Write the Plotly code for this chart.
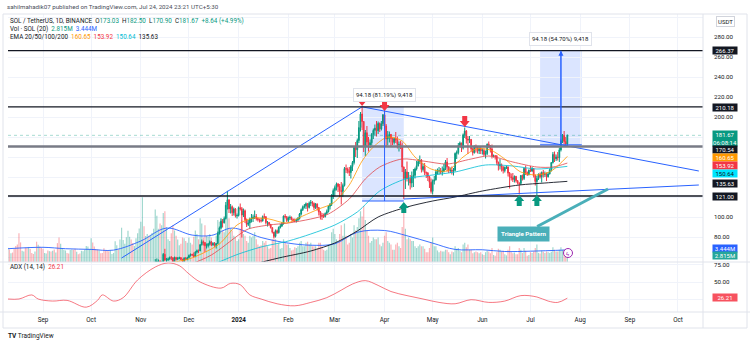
import plotly.graph_objects as go
import pandas as pd

# ---------------- DATA ----------------
# daily closes, SOL/USDT, starting 2023-08-10
close_aug23 = [24.6, 24.5, 24.8, 24.7, 24.6, 23.6, 22.7, 21.4, 21.3, 21.7, 22.0, 21.3, 20.9, 21.9, 21.2, 21.0, 20.9, 21.0, 20.7, 22.1, 21.0, 19.9]
close_sep23 = [19.6, 19.6, 19.7, 19.4, 19.6, 19.5, 19.5, 19.1, 19.2, 18.1, 17.4, 18.0, 18.4, 18.7, 18.9, 18.8, 18.7, 19.2, 19.7, 19.5, 19.1, 19.5, 19.4, 19.0, 19.3, 19.4, 19.7, 20.6, 21.0, 21.3]
close_oct23 = [23.9, 23.3, 23.1, 22.8, 22.7, 23.2, 23.1, 22.8, 21.7, 21.6, 21.3, 21.1, 21.6, 21.6, 22.4, 23.7, 24.3, 24.0, 26.6, 29.7, 29.9, 30.4, 31.5, 32.1, 32.8, 31.8, 31.7, 32.6, 34.6, 36.4, 38.2]
close_nov23 = [40.0, 42.0, 39.7, 41.6, 42.6, 41.9, 42.8, 43.1, 44.5, 55.0, 55.4, 55.4, 53.2, 53.6, 62.7, 57.0, 57.2, 58.0, 59.5, 59.2, 55.0, 59.5, 57.7, 58.5, 59.4, 57.6, 55.6, 58.7, 57.5, 59.2]
close_dec23 = [61.5, 62.6, 62.1, 60.6, 65.0, 66.2, 66.1, 72.2, 75.2, 74.6, 71.2, 71.3, 73.2, 75.1, 72.0, 73.6, 71.6, 73.5, 83.3, 89.2, 95.8, 94.2, 98.5, 111.8, 117.2, 108.1, 110.3, 104.3, 108.0, 101.2, 101.5]
close_jan24 = [109.3, 108.2, 101.9, 106.2, 97.3, 92.6, 94.1, 98.0, 98.6, 100.0, 100.4, 98.5, 97.5, 96.6, 96.1, 100.3, 100.2, 94.4, 94.6, 92.7, 89.4, 84.8, 80.6, 86.3, 84.4, 89.6, 91.1, 93.1, 100.9, 100.2, 96.6]
close_feb24 = [99.0, 99.6, 97.6, 96.1, 96.0, 97.2, 98.4, 103.0, 107.3, 110.1, 111.2, 113.3, 109.6, 113.8, 114.5, 113.6, 109.4, 113.1, 109.4, 105.0, 101.5, 101.3, 100.5, 103.6, 105.5, 110.7, 112.6, 120.3, 126.4]
close_mar24 = [129.4, 133.0, 130.4, 126.6, 125.6, 131.5, 148.4, 147.9, 146.1, 144.4, 150.5, 154.5, 169.6, 167.2, 176.5, 189.4, 203.0, 195.5, 169.9, 184.3, 175.0, 172.1, 174.2, 182.7, 186.7, 188.8, 186.2, 193.6, 188.1, 193.3, 202.2]
close_apr24 = [191.1, 178.1, 180.7, 182.6, 178.4, 174.6, 178.4, 176.9, 172.5, 172.6, 170.4, 149.9, 138.4, 145.1, 138.4, 138.5, 134.1, 140.4, 141.7, 148.1, 151.3, 155.4, 156.5, 147.5, 150.5, 144.5, 143.9, 140.3, 134.7, 125.6]
close_may24 = [135.8, 137.2, 144.9, 146.3, 146.3, 144.9, 146.0, 148.4, 155.0, 150.2, 146.6, 146.8, 145.8, 146.7, 163.6, 164.4, 171.4, 174.1, 169.1, 182.2, 185.9, 178.0, 176.9, 177.6, 168.2, 164.3, 170.8, 169.7, 166.2, 168.3, 166.2]
close_jun24 = [166.6, 162.6, 163.4, 172.8, 171.0, 168.1, 161.1, 161.2, 160.7, 154.5, 151.3, 152.3, 149.7, 146.4, 149.6, 150.1, 143.9, 140.3, 139.3, 137.4, 140.7, 136.3, 134.1, 133.6, 141.5, 138.6, 148.6, 144.5, 142.5, 146.9]
close_jul24 = [146.0, 148.3, 141.4, 135.5, 138.5, 142.9, 140.2, 144.5, 142.7, 143.1, 140.2, 143.1, 147.3, 154.4, 162.6, 158.2, 160.0, 159.3, 167.1, 176.2, 181.7, 175.4, 173.03, 181.67]

# daily highs / lows for the candles that reach the visible pane (from 2023-11-10)
high_nov23 = [57.9, 58.5, 57.5, 56.8, 55.5, 64.0, 68.2, 59.0, 59.5, 60.5, 61.0, 59.9, 60.4, 60.2, 60.0, 60.3, 59.8, 58.2, 59.8, 60.0, 60.2]
low_nov23 = [44.0, 53.5, 53.0, 51.0, 50.5, 52.9, 56.1, 53.4, 55.8, 57.3, 57.0, 54.0, 54.5, 56.5, 57.0, 57.9, 56.9, 54.6, 55.4, 56.8, 56.8]
high_dec23 = [62.5, 63.5, 63.2, 64.5, 65.8, 67.5, 67.5, 73.0, 77.5, 76.5, 74.6, 73.5, 74.0, 76.5, 76.0, 74.8, 75.0, 74.0, 85.5, 90.5, 98.5, 98.0, 100.5, 115.0, 126.2, 117.5, 113.0, 111.5, 109.5, 109.0, 103.5]
low_dec23 = [58.8, 60.5, 60.8, 59.5, 59.8, 63.5, 64.0, 65.8, 71.5, 71.5, 65.0, 68.5, 69.5, 71.5, 71.0, 71.4, 70.2, 68.5, 72.8, 82.5, 88.0, 89.5, 93.5, 97.5, 107.5, 104.0, 103.5, 101.0, 101.5, 99.5, 98.5]
high_jan24 = [110.5, 113.5, 110.0, 108.5, 107.5, 98.5, 97.0, 99.5, 103.0, 102.5, 106.5, 103.0, 99.5, 98.5, 99.0, 101.5, 103.5, 101.0, 96.0, 95.0, 93.0, 89.5, 85.0, 87.5, 87.5, 90.5, 93.0, 95.0, 101.5, 103.0, 101.0]
low_jan24 = [100.5, 106.5, 79.5, 100.0, 94.0, 90.0, 91.0, 88.5, 94.5, 95.0, 98.0, 96.5, 95.5, 94.5, 94.5, 95.5, 98.5, 92.5, 90.5, 91.5, 88.5, 83.5, 79.0, 79.5, 83.0, 83.5, 88.5, 90.0, 92.5, 98.5, 95.0]
high_feb24 = [100.5, 101.5, 100.5, 98.5, 98.5, 98.5, 100.0, 104.0, 108.5, 111.5, 113.0, 114.5, 114.0, 115.5, 117.0, 116.0, 114.5, 114.0, 113.5, 110.0, 106.0, 104.0, 103.5, 104.5, 107.5, 111.5, 114.0, 123.0, 128.5]
low_feb24 = [95.0, 97.0, 96.5, 95.0, 95.0, 94.5, 96.0, 97.5, 101.5, 106.0, 108.5, 108.0, 105.5, 108.5, 111.0, 110.5, 107.0, 108.0, 106.5, 101.5, 97.5, 97.0, 99.0, 99.5, 102.5, 104.5, 107.5, 111.0, 118.0]
high_mar24 = [131.5, 134.5, 134.0, 133.0, 135.0, 133.5, 150.0, 152.5, 149.5, 150.0, 152.0, 156.0, 171.0, 175.0, 178.5, 196.0, 205.0, 210.2, 196.0, 187.0, 191.0, 180.0, 177.5, 184.0, 188.5, 192.5, 196.0, 195.5, 194.5, 196.0, 203.0]
low_mar24 = [120.5, 126.5, 125.0, 120.0, 112.5, 120.0, 130.5, 144.0, 143.5, 141.0, 138.5, 146.0, 152.5, 160.0, 159.0, 174.0, 185.5, 187.0, 165.0, 161.0, 170.5, 165.5, 169.0, 171.5, 178.0, 181.5, 180.5, 183.0, 185.0, 186.5, 191.0]
high_apr24 = [205.0, 193.0, 186.0, 185.5, 183.0, 179.5, 179.5, 185.0, 180.5, 175.5, 176.0, 174.5, 150.5, 148.0, 155.5, 145.0, 142.0, 145.5, 148.0, 149.5, 156.0, 158.0, 161.5, 158.0, 153.5, 154.0, 145.5, 145.0, 141.0, 138.5]
low_apr24 = [188.5, 170.0, 171.5, 174.5, 171.0, 172.0, 172.5, 174.0, 168.5, 165.5, 168.0, 145.0, 118.0, 128.0, 135.5, 131.5, 127.5, 129.5, 130.0, 138.5, 146.5, 150.5, 153.0, 144.5, 145.5, 142.0, 139.0, 136.0, 129.0, 123.5]
high_may24 = [137.5, 141.0, 147.5, 148.5, 150.0, 149.0, 150.5, 153.0, 157.0, 159.0, 150.5, 149.5, 150.5, 149.0, 164.5, 166.5, 174.0, 175.5, 173.5, 183.5, 189.5, 187.0, 181.0, 181.0, 178.0, 169.5, 171.5, 172.5, 170.0, 170.5, 170.0]
low_may24 = [122.5, 132.5, 136.5, 142.5, 142.5, 143.0, 141.5, 144.5, 147.0, 145.5, 144.0, 144.0, 142.5, 141.5, 145.5, 158.0, 162.5, 170.0, 165.0, 167.5, 179.0, 173.5, 163.0, 174.0, 165.5, 161.5, 163.5, 164.5, 163.5, 163.0, 163.0]
high_jun24 = [168.5, 168.5, 166.5, 173.5, 175.5, 172.0, 172.5, 162.5, 162.0, 162.0, 155.5, 158.0, 153.5, 151.0, 150.5, 151.5, 150.5, 145.0, 143.5, 144.0, 141.5, 141.0, 137.0, 134.5, 142.0, 142.5, 149.5, 151.5, 145.5, 147.5]
low_jun24 = [162.5, 161.0, 158.5, 162.0, 169.0, 164.5, 158.5, 159.5, 157.5, 152.0, 146.5, 147.5, 145.5, 143.5, 144.5, 148.0, 140.5, 128.5, 136.5, 135.0, 134.5, 134.5, 132.5, 122.5, 132.0, 136.5, 137.0, 142.0, 141.0, 141.5]
high_jul24 = [151.0, 150.0, 149.0, 142.5, 141.0, 143.5, 144.5, 145.5, 147.0, 145.5, 144.5, 145.0, 148.5, 155.0, 165.0, 165.5, 162.5, 165.0, 169.5, 177.5, 183.0, 186.0, 180.0, 182.5]
low_jul24 = [145.0, 145.0, 139.5, 131.5, 122.0, 137.0, 138.5, 134.5, 139.5, 140.0, 136.0, 139.5, 142.5, 145.5, 153.5, 155.0, 156.0, 156.5, 155.0, 165.5, 174.0, 172.5, 170.5, 170.9]

# daily volume (millions of SOL), from 2023-08-10
vol_aug23 = [4.1, 3.6, 2.5, 2.7, 3.8, 4.6, 5.0, 8.2, 5.6, 3.2, 3.0, 4.1, 4.0, 4.3, 3.7, 2.6, 2.3, 3.0, 5.8, 4.9, 4.4, 4.0]
vol_sep23 = [3.8, 2.6, 2.4, 3.3, 3.1, 3.0, 3.2, 3.6, 2.7, 5.4, 7.0, 5.2, 3.9, 3.5, 3.3, 2.6, 2.4, 3.4, 3.6, 3.5, 3.8, 2.9, 2.2, 2.4, 3.2, 3.1, 3.5, 4.6, 4.4, 3.6]
vol_oct23 = [6.8, 5.6, 4.4, 3.7, 3.5, 3.3, 2.5, 2.6, 3.9, 3.2, 3.4, 3.1, 3.3, 2.3, 2.6, 5.9, 4.8, 3.6, 6.4, 9.8, 6.3, 5.2, 7.1, 8.9, 7.2, 6.4, 5.4, 4.6, 6.8, 8.2, 9.6]
vol_nov23 = [11.5, 18.5, 10.2, 7.4, 8.0, 7.5, 7.8, 8.3, 9.5, 15.0, 13.2, 9.5, 11.0, 10.5, 14.0, 14.5, 10.0, 6.5, 6.0, 8.2, 10.5, 9.0, 7.5, 6.4, 4.8, 5.2, 7.0, 6.8, 6.0, 5.5]
vol_dec23 = [7.0, 5.5, 5.0, 7.2, 9.0, 8.0, 6.5, 12.5, 11.0, 7.0, 10.5, 7.5, 7.2, 8.0, 7.0, 5.5, 5.0, 7.5, 12.0, 11.5, 12.5, 9.0, 8.5, 13.5, 15.5, 12.5, 9.5, 9.0, 7.5, 7.0, 6.0]
vol_jan24 = [6.5, 9.5, 12.0, 8.0, 7.5, 6.0, 5.5, 7.5, 7.0, 7.5, 8.5, 6.5, 5.0, 4.5, 4.8, 6.0, 5.5, 6.0, 4.5, 3.8, 4.0, 6.5, 8.5, 6.5, 5.0, 5.5, 3.8, 4.0, 6.5, 5.5, 5.0]
vol_feb24 = [5.0, 4.0, 3.3, 3.5, 4.2, 4.0, 4.5, 5.5, 6.0, 4.5, 4.5, 5.5, 5.8, 5.0, 5.5, 4.5, 4.5, 4.5, 4.0, 5.5, 5.5, 4.5, 3.5, 3.2, 3.5, 5.0, 5.0, 8.5, 9.5]
vol_mar24 = [8.0, 6.5, 5.5, 8.0, 10.5, 7.5, 11.0, 7.5, 5.0, 5.5, 8.0, 7.0, 10.5, 9.0, 10.0, 12.5, 14.5, 13.0, 16.0, 12.0, 9.0, 7.5, 5.5, 6.0, 7.0, 6.5, 6.5, 7.0, 5.0, 4.5, 5.5]
vol_apr24 = [7.5, 8.5, 6.0, 5.5, 5.0, 3.5, 3.5, 5.0, 5.5, 4.5, 4.0, 10.0, 15.5, 9.5, 6.5, 7.0, 6.5, 6.0, 6.0, 4.5, 4.0, 4.5, 5.0, 4.5, 4.5, 3.8, 2.8, 2.8, 4.0, 5.5]
vol_may24 = [7.0, 4.5, 4.5, 3.3, 2.8, 3.2, 3.0, 3.0, 3.5, 3.5, 2.8, 2.2, 3.0, 2.8, 4.5, 3.8, 4.0, 3.2, 2.8, 5.0, 5.5, 4.2, 5.0, 3.5, 3.5, 2.5, 2.8, 3.0, 2.8, 2.5, 2.8]
vol_jun24 = [2.2, 2.0, 2.8, 3.2, 3.0, 2.5, 4.0, 2.0, 1.8, 2.8, 3.8, 3.5, 3.0, 3.2, 2.2, 1.9, 3.5, 4.5, 2.8, 2.5, 2.7, 2.2, 2.2, 4.0, 3.5, 2.6, 4.0, 3.2, 1.8, 2.0]
vol_jul24 = [2.8, 2.6, 3.0, 4.0, 5.0, 2.6, 2.4, 3.3, 2.9, 2.6, 3.0, 2.8, 2.6, 2.9, 4.2, 3.5, 3.0, 3.0, 3.5, 4.2, 3.5, 3.6, 3.0, 2.815]

# indicator curves (date, value)
ema20_dates = ["2023-11-10", "2023-11-20", "2023-12-01", "2023-12-10", "2023-12-20", "2023-12-31", "2024-01-10", "2024-01-20", "2024-01-31", "2024-02-10", "2024-02-20", "2024-02-29", "2024-03-10", "2024-03-18", "2024-03-25", "2024-04-03", "2024-04-12", "2024-04-20", "2024-04-30", "2024-05-10", "2024-05-20", "2024-05-28", "2024-06-06", "2024-06-15", "2024-06-25", "2024-07-05", "2024-07-14", "2024-07-24"]
ema20_vals = [47, 54, 58, 64, 73, 92, 99, 98, 94, 101, 108, 114, 132, 156, 170, 180, 176, 160, 148, 146, 160, 168, 167, 158, 145, 142, 146, 160.65]
ema50_dates = ["2023-11-10", "2023-12-01", "2023-12-15", "2024-01-01", "2024-01-07", "2024-01-20", "2024-02-01", "2024-02-15", "2024-02-26", "2024-03-10", "2024-03-20", "2024-03-29", "2024-04-12", "2024-04-25", "2024-05-10", "2024-05-25", "2024-06-05", "2024-06-20", "2024-07-05", "2024-07-15", "2024-07-24"]
ema50_vals = [40, 52, 62, 82, 88, 92, 94, 98, 103, 118, 138, 150, 158, 156, 153, 158, 161, 155, 150, 150, 153.92]
ema100_dates = ["2023-11-20", "2023-12-01", "2023-12-15", "2024-01-01", "2024-01-15", "2024-02-01", "2024-02-15", "2024-03-01", "2024-03-15", "2024-03-29", "2024-04-14", "2024-05-01", "2024-05-15", "2024-06-03", "2024-06-20", "2024-07-05", "2024-07-24"]
ema100_vals = [40, 45, 52, 63, 70, 76, 83, 92, 105, 126, 138, 142, 145, 152, 151, 148, 150.64]
ema200_dates = ["2024-01-01", "2024-01-26", "2024-02-15", "2024-03-01", "2024-03-15", "2024-03-28", "2024-04-15", "2024-05-01", "2024-05-15", "2024-06-01", "2024-06-24", "2024-07-10", "2024-07-24"]
ema200_vals = [49, 59, 66, 74, 86, 100, 110, 116, 120, 126, 132, 134, 135.63]
volma_dates = ["2023-08-10", "2023-09-01", "2023-09-15", "2023-10-01", "2023-10-15", "2023-11-01", "2023-11-17", "2023-12-03", "2023-12-15", "2023-12-28", "2024-01-15", "2024-02-01", "2024-02-15", "2024-03-01", "2024-03-15", "2024-04-01", "2024-04-15", "2024-05-01", "2024-05-15", "2024-06-01", "2024-06-15", "2024-07-01", "2024-07-24"]
volma_vals = [3.8, 4.2, 3.8, 3.6, 3.4, 6.0, 9.7, 7.7, 7.6, 9.7, 7.0, 5.4, 4.8, 5.2, 8.5, 9.0, 7.5, 5.4, 3.6, 3.5, 3.0, 3.1, 3.444]
adx_dates = ["2023-08-10", "2023-08-17", "2023-08-25", "2023-08-29", "2023-09-07", "2023-09-16", "2023-09-28", "2023-10-05", "2023-10-08", "2023-10-15", "2023-10-21", "2023-10-30", "2023-11-10", "2023-11-18", "2023-11-25", "2023-12-01", "2023-12-08", "2023-12-21", "2023-12-27", "2024-01-02", "2024-01-08", "2024-01-15", "2024-01-25", "2024-02-05", "2024-02-15", "2024-02-25", "2024-03-05", "2024-03-12", "2024-03-20", "2024-03-28", "2024-04-05", "2024-04-15", "2024-04-25", "2024-05-05", "2024-05-15", "2024-05-25", "2024-06-05", "2024-06-15", "2024-06-25", "2024-07-05", "2024-07-12", "2024-07-18", "2024-07-24"]
adx_vals = [25, 25, 31, 25, 22, 23, 13, 23, 31, 22, 27, 53, 72, 78, 74, 62, 50, 41, 48, 46, 31, 25, 18, 15, 20, 27, 38, 47, 52, 45, 36, 30, 25, 20, 18, 24, 20, 22, 30, 28, 22, 20, 26.21]

# drawing-tool anchors (date, price)
level_prices = [266.37, 210.18, 170.54, 121.00]
asc_line = [("2023-10-20", 59.0), ("2024-03-18", 210.18)]
desc_line = [("2024-03-18", 210.18), ("2024-10-14", 146.0)]
support_line = [("2024-04-13", 118.0), ("2024-10-14", 132.0)]
box1 = [("2024-03-18", "2024-04-13", "2024-04-01"), (116.0, 210.18)]
box2 = [("2024-07-07", "2024-08-02", "2024-07-20"), (172.19, 266.37)]
red_marks = [("2024-03-18", 211.0), ("2024-04-01", 206.0), ("2024-05-21", 190.0)]
green_marks = [("2024-04-13", 115.0), ("2024-06-24", 122.0), ("2024-07-05", 122.0)]
month_ticks = ["2023-09-01", "2023-10-01", "2023-11-01", "2023-12-01", "2024-01-01", "2024-02-01", "2024-03-01", "2024-04-01", "2024-05-01", "2024-06-01", "2024-07-01", "2024-08-01", "2024-09-01", "2024-10-01"]
month_labels = ["Sep", "Oct", "Nov", "Dec", "<b>2024</b>", "Feb", "Mar", "Apr", "May", "Jun", "Jul", "Aug", "Sep", "Oct"]

# ---------------- assemble series ----------------
closes = (close_aug23 + close_sep23 + close_oct23 + close_nov23 + close_dec23 + close_jan24 +
          close_feb24 + close_mar24 + close_apr24 + close_may24 + close_jun24 + close_jul24)
volumes = (vol_aug23 + vol_sep23 + vol_oct23 + vol_nov23 + vol_dec23 + vol_jan24 +
           vol_feb24 + vol_mar24 + vol_apr24 + vol_may24 + vol_jun24 + vol_jul24)
highs = high_nov23 + high_dec23 + high_jan24 + high_feb24 + high_mar24 + high_apr24 + high_may24 + high_jun24 + high_jul24
lows = low_nov23 + low_dec23 + low_jan24 + low_feb24 + low_mar24 + low_apr24 + low_may24 + low_jun24 + low_jul24
dates = pd.date_range("2023-08-10", periods=len(closes), freq="D")
opens = [closes[0]] + closes[:-1]
first = len(closes) - len(highs)
c_dates = dates[first:]
c_open = opens[first:]
c_close = closes[first:]
c_high = [max(h, o, c) for h, o, c in zip(highs, c_open, c_close)]
c_low = [min(l, o, c) for l, o, c in zip(lows, c_open, c_close)]

UP, DN = "#089981", "#F23645"
vol_colors = ["rgba(8,153,129,0.38)" if c >= o else "rgba(242,54,69,0.38)" for o, c in zip(opens, closes)]

# ---------------- geometry ----------------
W, H = 750, 344
L, R, T, B = 8, 47, 14, 32
PW, PH = W - L - R, H - T - B
def fx(px): return (px - L) / PW
def fy(py): return (H - B - py) / PH
SPLIT = 262
ANCHOR = pd.Timestamp("2023-09-01")
PXD = 1.6035
def px_date(px): return ANCHOR + pd.Timedelta(days=(px - 43) / PXD)
x_range = [px_date(L), px_date(W - R)]

FONT = "Roboto, Open Sans, sans-serif"
TXT = "#131722"

fig = go.Figure()
fig.add_trace(go.Bar(x=dates, y=volumes, marker=dict(color=vol_colors, line=dict(width=0)),
                     xaxis="x2", yaxis="y", hoverinfo="skip"))
fig.add_trace(go.Scatter(x=volma_dates, y=volma_vals, mode="lines", line=dict(color="#2962FF", width=0.9, shape="spline"),
                         xaxis="x2", yaxis="y", hoverinfo="skip"))
for d, v, col, w in [(ema200_dates, ema200_vals, "#131722", 0.9), (ema100_dates, ema100_vals, "#00BCD4", 0.8),
                     (ema50_dates, ema50_vals, "#E0474C", 0.8), (ema20_dates, ema20_vals, "#FF9800", 0.8)]:
    fig.add_trace(go.Scatter(x=d, y=v, mode="lines", line=dict(color=col, width=w, shape="spline", smoothing=0.8),
                             xaxis="x2", yaxis="y2", hoverinfo="skip"))
fig.add_trace(go.Candlestick(x=c_dates, open=c_open, high=c_high, low=c_low, close=c_close,
                             increasing=dict(line=dict(color=UP, width=1), fillcolor=UP),
                             decreasing=dict(line=dict(color=DN, width=1), fillcolor=DN),
                             whiskerwidth=0, xaxis="x2", yaxis="y2", hoverinfo="skip"))
# trend lines of the drawing
for ln in (asc_line, desc_line, support_line):
    fig.add_trace(go.Scatter(x=[p[0] for p in ln], y=[p[1] for p in ln], mode="lines",
                             line=dict(color="#2962FF", width=1), xaxis="x2", yaxis="y2", hoverinfo="skip"))
fig.add_trace(go.Scatter(x=adx_dates, y=adx_vals, mode="lines", line=dict(color="rgba(242,54,69,0.75)", width=0.9, shape="spline"),
                         xaxis="x", yaxis="y3", hoverinfo="skip"))

shapes = []
# horizontal levels
for p in level_prices:
    is_mid = abs(p - 170.54) < 0.01
    shapes.append(dict(type="line", xref="paper", x0=0, x1=1, yref="y2", y0=p, y1=p,
                       line=dict(color="#787B86" if is_mid else "#131722", width=2.4 if is_mid else 1.3)))
shapes.append(dict(type="line", xref="paper", x0=0, x1=1, yref="y2", y0=181.67, y1=181.67,
                   line=dict(color="rgba(8,153,129,0.35)", width=1, dash="dot")))
# measurement boxes
for (d0, d1, dm), (p0, p1) in (box1, box2):
    shapes.append(dict(type="rect", xref="x2", yref="y2", x0=d0, x1=d1, y0=p0, y1=p1,
                       fillcolor="rgba(41,98,255,0.17)", line=dict(width=0), layer="below"))
    shapes.append(dict(type="line", xref="x2", yref="y2", x0=d0, x1=d1, y0=p0, y1=p0, line=dict(color="#2962FF", width=1)))
    shapes.append(dict(type="line", xref="x2", yref="y2", x0=dm, x1=dm, y0=p0, y1=p1, line=dict(color="#2962FF", width=1)))
# arrow markers (pixel sized)
for d, p in red_marks:
    shapes.append(dict(type="path", xref="x2", yref="y2", xsizemode="pixel", ysizemode="pixel", xanchor=d, yanchor=p,
                       path="M 0 0 L -5 6 L -2.5 6 L -2.5 11 L 2.5 11 L 2.5 6 L 5 6 Z", fillcolor=DN, line=dict(width=0)))
for d, p in green_marks:
    shapes.append(dict(type="path", xref="x2", yref="y2", xsizemode="pixel", ysizemode="pixel", xanchor=d, yanchor=p,
                       path="M 0 0 L -5 -6 L -2.5 -6 L -2.5 -11 L 2.5 -11 L 2.5 -6 L 5 -6 Z", fillcolor=UP, line=dict(width=0)))
# pane separators / frame
shapes.append(dict(type="line", xref="paper", yref="paper", x0=fx(0), x1=fx(750), y0=fy(SPLIT), y1=fy(SPLIT), line=dict(color="#E0E3EB", width=1)))
shapes.append(dict(type="line", xref="paper", yref="paper", x0=fx(0), x1=fx(750), y0=fy(312), y1=fy(312), line=dict(color="#E0E3EB", width=1)))
shapes.append(dict(type="line", xref="paper", yref="paper", x0=1, x1=1, y0=fy(328), y1=fy(14), line=dict(color="#E0E3EB", width=1)))
shapes.append(dict(type="rect", xref="paper", yref="paper", x0=fx(3), x1=fx(747), y0=fy(328), y1=fy(14), line=dict(color="#E0E3EB", width=1)))
# lightning event icon ring
shapes.append(dict(type="circle", xref="x2", yref="paper", xsizemode="pixel", ysizemode="pixel",
                   xanchor=px_date(568), yanchor=fy(253), x0=-4.5, x1=4.5, y0=-4.5, y1=4.5,
                   line=dict(color="#9C27B0", width=1), fillcolor="white"))

ann = []
def txt(px, py, text, size=6.3, color=TXT, anchor="left"):
    ann.append(dict(xref="paper", yref="paper", x=fx(px), y=fy(py), text=text, showarrow=False,
                    xanchor=anchor, yanchor="middle", font=dict(family=FONT, size=size, color=color)))
def sp(t, c): return f'<span style="color:{c}">{t}</span>'

txt(5, 7, "sahilmahadik07 published on TradingView.com, Jul 24, 2024 23:21 UTC+5:30", 6.2, "#4a4e59")
txt(8, 21, "SOL / TetherUS, 1D, BINANCE  O" + sp("173.03", UP) + "  H" + sp("182.50", UP) + "  L" + sp("170.90", UP) +
    "  C" + sp("181.67", UP) + "  " + sp("+8.64 (+4.99%)", UP), 6.3)
txt(8, 29, "Vol · SOL (20)  " + sp("2.815M", UP) + "  " + sp("3.444M", "#2962FF"), 6.3)
txt(8, 37, "EMA 20/50/100/200  " + sp("160.65", "#FF9800") + "  " + sp("153.92", DN) + "  " +
    sp("150.64", "#00BCD4") + "  " + sp("135.63", TXT), 6.3)
txt(8, 267, "ADX (14, 14)  " + sp("26.21", DN), 6.3)
txt(6, 336, "<b>TV</b> TradingView", 6.5, "#131722")
txt(568, 253, "ϟ", 6, "#9C27B0", "center")

# USDT unit label
ann.append(dict(xref="paper", yref="paper", x=fx(725), y=fy(21), text="USDT", showarrow=False,
                font=dict(family=FONT, size=6, color=TXT), bordercolor="#D1D4DC", borderwidth=1, borderpad=1,
                xanchor="center", yanchor="middle"))

# right-scale badges (pixel rows as in the picture)
badges = [(51, "266.37", "#131722", "white"), (107, "210.18", "#131722", "white"),
          (138, "181.67<br>06:08:14", UP, "white"), (149.5, "170.54", "#131722", "white"),
          (157.5, "160.65", "#FF9800", "white"), (165.5, "153.92", DN, "white"),
          (173.5, "150.64", "#00E5FF", "#131722"), (183, "135.63", "#131722", "white"),
          (196, "121.00", "#131722", "white"), (248, "3.444M", "#2962FF", "white"),
          (255.5, "2.815M", "#26A69A", "white"), (297, "26.21", "#F7525F", "white")]
for py, t, bg, fg in badges:
    two = "<br>" in t
    ann.append(dict(xref="paper", yref="paper", x=fx(725), y=fy(py), text=t, showarrow=False,
                    xanchor="center", yanchor="middle", bgcolor=bg, width=24, height=15 if two else 7,
                    font=dict(family=FONT, size=6, color=fg), borderpad=0))

# measurement labels
for lab, d, p in [("94.18 (81.19%) 9,418", "2024-04-01", 222), ("94.18 (54.70%) 9,418", "2024-07-20", 278)]:
    ann.append(dict(xref="x2", yref="y2", x=d, y=p, text=lab, showarrow=False, bgcolor="white",
                    bordercolor="#E0E3EB", borderwidth=1, borderpad=2, font=dict(family=FONT, size=6, color=TXT)))
# arrow inside box 2
ann.append(dict(xref="x2", yref="y2", x=box2[0][2], y=box2[1][1], axref="x2", ayref="y2", ax=box2[0][2], ay=box2[1][0],
                showarrow=True, arrowhead=2, arrowsize=1, arrowwidth=1, arrowcolor="#2962FF", text=""))
# Triangle Pattern callout
ann.append(dict(xref="x2", yref="y2", x=px_date(608), y=317 - 189, ax=-85, ay=45, text="<b>Triangle Pattern</b>",
                showarrow=True, arrowhead=0, arrowwidth=3, arrowcolor="#4AAFB9", bgcolor="#4AAFB9",
                borderpad=3, font=dict(family=FONT, size=6.2, color="white")))

price_ticks = list(range(60, 301, 20))
price_text = [f"{v:.2f}" if v in (80, 100, 200, 220, 240, 260, 280) else "" for v in price_ticks]

fig.update_layout(
    width=W, height=H, margin=dict(l=L, r=R, t=T, b=B), paper_bgcolor="white", plot_bgcolor="white",
    showlegend=False, bargap=0.25, shapes=shapes, annotations=ann,
    font=dict(family=FONT, size=6, color=TXT),
    xaxis=dict(domain=[0, 1], anchor="y3", range=x_range, type="date", tickvals=month_ticks, ticktext=month_labels,
               showgrid=True, gridcolor="#F0F3FA", ticks="", tickfont=dict(size=6.3, color=TXT), showline=False,
               rangeslider=dict(visible=False), zeroline=False, ticklabelstandoff=3),
    xaxis2=dict(domain=[0, 1], anchor="y", matches="x", range=x_range, type="date", tickvals=month_ticks,
                showticklabels=False, showgrid=True, gridcolor="#F0F3FA", ticks="", rangeslider=dict(visible=False)),
    yaxis=dict(domain=[fy(SPLIT), 1], anchor="x2", range=[0, 70.9], visible=False, showgrid=False),
    yaxis2=dict(domain=[fy(SPLIT), 1], anchor="x2", overlaying="y", side="right", range=[55, 303],
                tickvals=price_ticks, ticktext=price_text, showgrid=True, gridcolor="#F0F3FA", ticks="",
                tickfont=dict(size=6.2, color=TXT), zeroline=False, ticklabelstandoff=10),
    yaxis3=dict(domain=[0, fy(SPLIT)], anchor="x", side="right", range=[5.9, 79.4], tickvals=[25, 50, 75],
                ticktext=["", "50.00", "75.00"], showgrid=True, gridcolor="#F0F3FA", ticks="",
                tickfont=dict(size=6.2, color=TXT), zeroline=False, ticklabelstandoff=10),
)
fig.write_html("out.html")
